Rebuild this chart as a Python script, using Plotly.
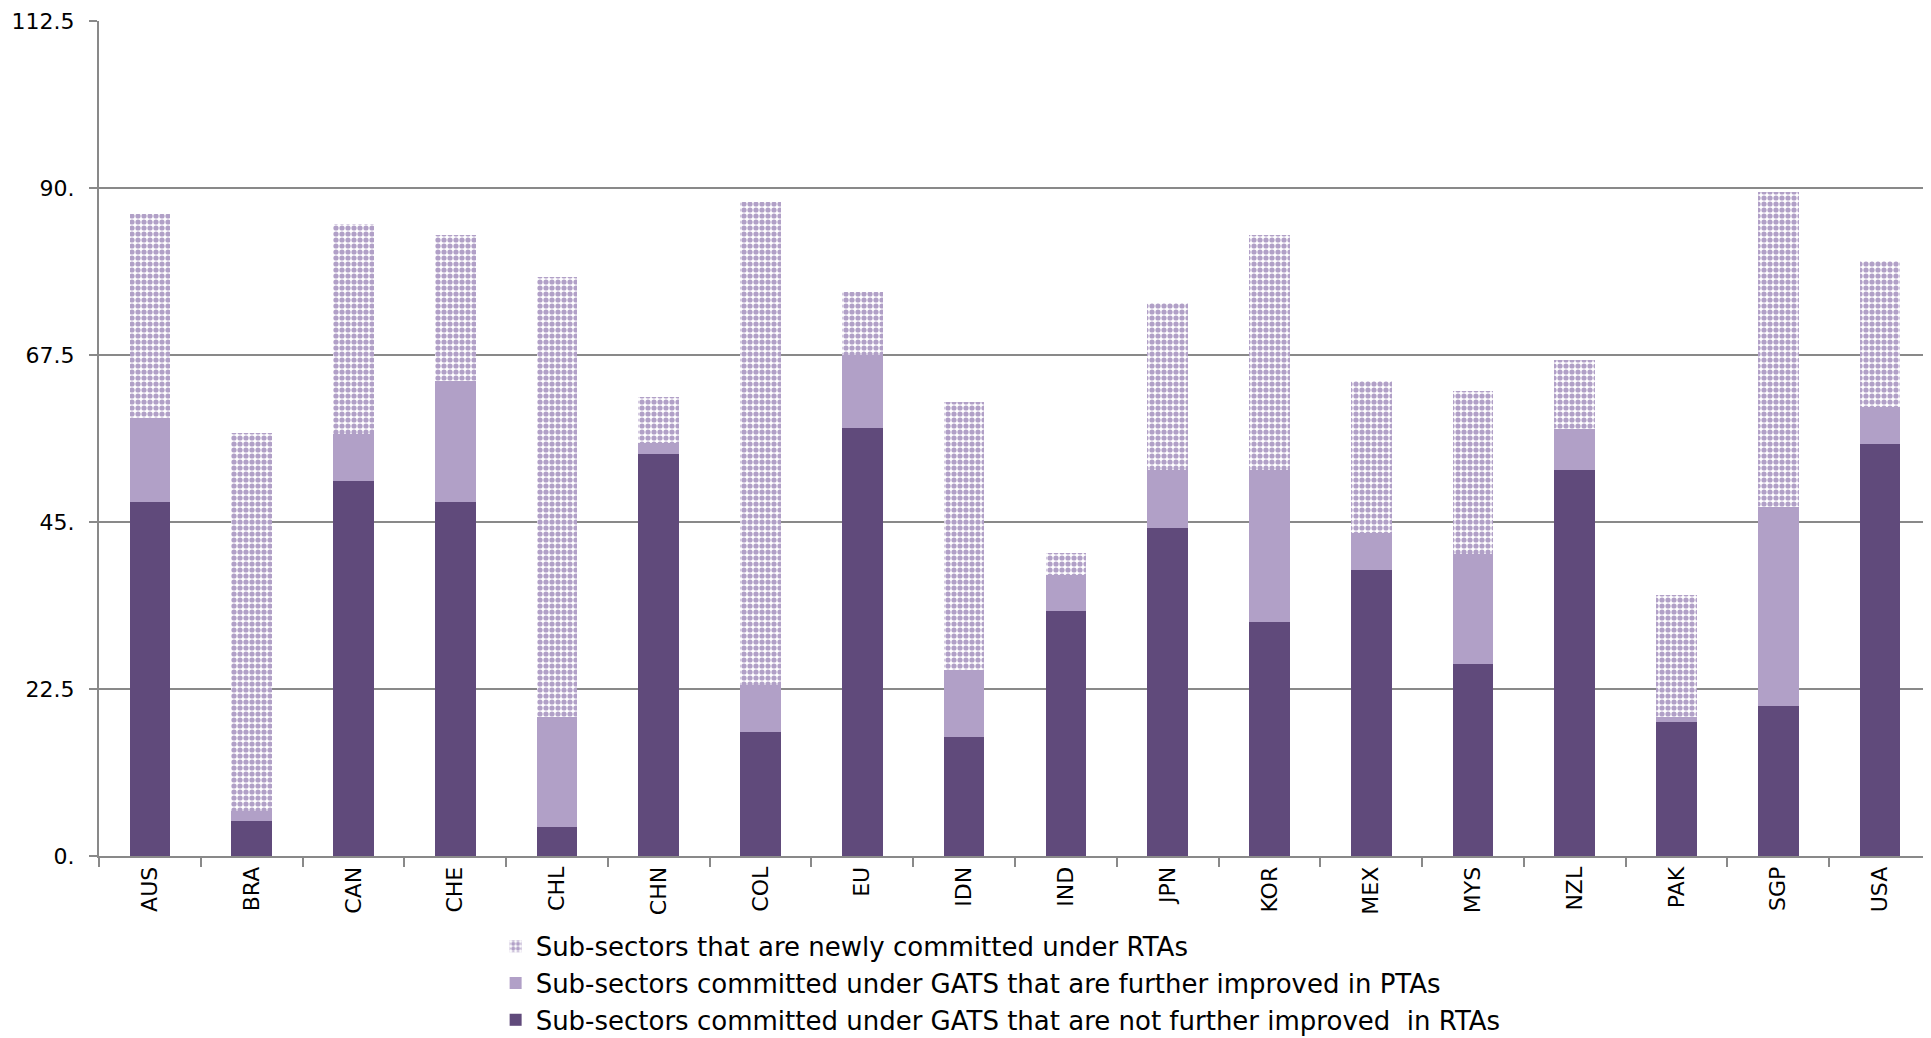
import plotly.graph_objects as go

categories = ["AUS", "BRA", "CAN", "CHE", "CHL", "CHN", "COL", "EU", "IDN",
              "IND", "JPN", "KOR", "MEX", "MYS", "NZL", "PAK", "SGP", "USA"]

not_improved = [47.7, 4.7, 50.5, 47.7, 3.9, 54.1, 16.7, 57.6, 16.1,
                33.0, 44.2, 31.5, 38.5, 25.9, 52.0, 18.1, 20.2, 55.5]
further_improved = [11.3, 1.4, 6.4, 16.3, 14.8, 1.5, 6.4, 9.9, 8.9,
                    4.9, 7.8, 20.5, 5.0, 14.8, 5.5, 0.6, 26.8, 5.0]
newly_committed = [27.5, 50.9, 28.3, 19.7, 59.3, 6.3, 65.0, 8.5, 36.2,
                   2.9, 22.5, 31.7, 20.5, 21.9, 9.3, 16.4, 42.4, 19.7]

series_names = [
    "Sub-sectors committed under GATS that are not further improved  in RTAs",
    "Sub-sectors committed under GATS that are further improved in PTAs",
    "Sub-sectors that are newly committed under RTAs",
]

tick_vals = [0, 22.5, 45, 67.5, 90, 112.5]
tick_text = ["0.", "22.5", "45.", "67.5", "90.", "112.5"]

DARK = "#604A7B"
LIGHT = "#B1A0C7"
GRID = "#898989"
FONT = "DejaVu Sans, sans-serif"

fig = go.Figure()
fig.add_trace(go.Bar(x=categories, y=not_improved, name=series_names[0],
                     marker=dict(color=DARK, line=dict(width=0)),
                     legendrank=3))
fig.add_trace(go.Bar(x=categories, y=further_improved, name=series_names[1],
                     marker=dict(color=LIGHT, line=dict(width=0)),
                     legendrank=2))
fig.add_trace(go.Bar(x=categories, y=newly_committed, name=series_names[2],
                     marker=dict(color="white", line=dict(width=0),
                                 pattern=dict(shape=".", fgcolor=LIGHT,
                                              bgcolor="white", size=6,
                                              solidity=0.6,
                                              fillmode="replace")),
                     legendrank=1))

fig.update_layout(
    barmode="stack",
    bargap=0.6,
    width=1923, height=1030,
    margin=dict(l=91, r=0, t=13, b=182, autoexpand=False),
    plot_bgcolor="white",
    paper_bgcolor="white",
    font=dict(family=FONT, color="black"),
    showlegend=True,
    legend=dict(
        x=0.2165, xanchor="left",
        y=-0.080, yanchor="top",
        traceorder="normal",
        font=dict(size=26, family=FONT),
        itemwidth=30,
        tracegroupgap=0,
        bgcolor="rgba(0,0,0,0)",
    ),
)

fig.update_yaxes(
    range=[0, 112.5],
    tickvals=tick_vals, ticktext=tick_text,
    showgrid=True, gridcolor=GRID, gridwidth=2,
    showline=True, linecolor=GRID, linewidth=2,
    ticks="outside", ticklen=8, tickcolor=GRID, tickwidth=2,
    ticklabelstandoff=10,
    tickfont=dict(size=22),
    zeroline=False,
    automargin=False,
)
fig.update_xaxes(
    showline=True, linecolor=GRID, linewidth=2,
    ticks="outside", ticklen=9, tickcolor=GRID, tickwidth=2,
    tickson="boundaries",
    tickangle=-90,
    tickfont=dict(size=22),
    showgrid=False,
    automargin=False,
)

fig.write_html("out.html")
